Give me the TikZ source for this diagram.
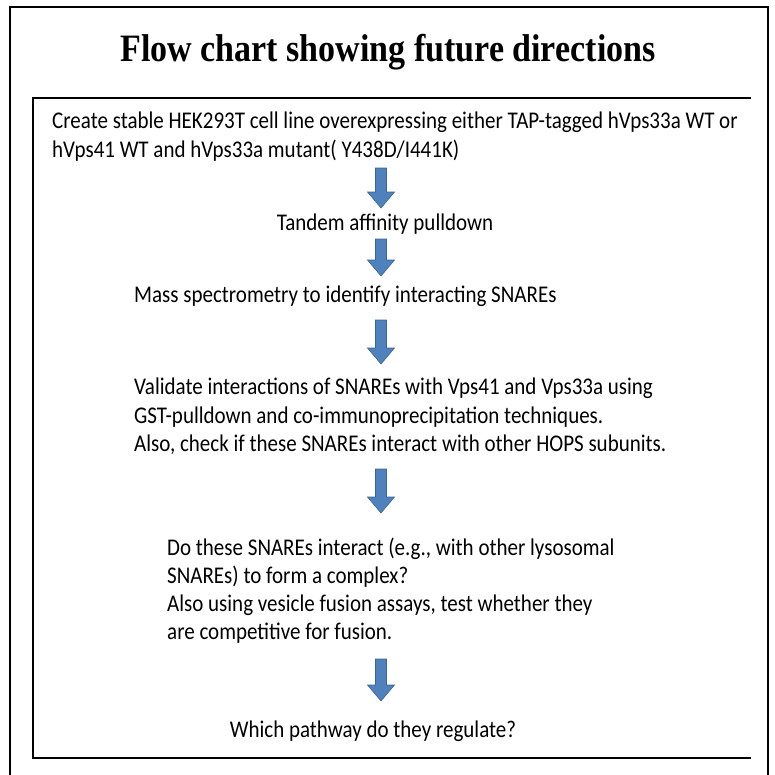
\documentclass[tikz,border=0pt]{standalone}
\usepackage{fontspec}
\setmainfont{Carlito}
\newfontfamily\titlefont{Liberation Serif}
\usetikzlibrary{calc}
\definecolor{arrowblue}{HTML}{4F81BD}
\definecolor{arrowedge}{HTML}{3A6496}
\newcommand\tallt[1]{\scalebox{1}[1.14]{#1}}
\newcommand\flowarrow[2]{%
  \filldraw[arrowstyle] ($(#1)+(-5.5,0)$) -- ($(#1)+(5.5,0)$) -- ($(#2)+(5.5,-16)$) -- ($(#2)+(13.5,-16)$)
    -- (#2) -- ($(#2)+(-13.5,-16)$) -- ($(#2)+(-5.5,-16)$) -- cycle;}
\begin{document}
\begin{tikzpicture}[x=1pt,y=-1pt,
  txt/.style={inner sep=0pt,anchor=base west,font=\fontsize{21}{27}\selectfont},
  ctxt/.style={inner sep=0pt,anchor=base,font=\fontsize{21}{27}\selectfont},
  arrowstyle/.style={fill=arrowblue,draw=arrowedge,line width=0.6pt,line join=miter},
  frame/.style={line width=2pt}]
\useasboundingbox (0,0) rectangle (775,774);
% frames
\draw[frame] (10,776) -- (10,7) -- (768,7) -- (768,776);
\draw[frame] (751,98) -- (33,98) -- (33,758) -- (751,758);
% title
\node[inner sep=0pt,anchor=base,font=\titlefont\bfseries\fontsize{34}{40}\selectfont] (title) at (388,61) {\tallt{Flow chart showing future directions}};
% steps
\node[txt] (c1) at (52,128) {\tallt{Create stable HEK293T cell line overexpressing either TAP-tagged hVps33a WT or}};
\node[txt] (c2) at (52,157) {\tallt{hVps41 WT and hVps33a mutant( Y438D/I441K)}};
\node[ctxt] (t1) at (385,230) {\tallt{Tandem affinity pulldown}};
\node[txt] (m1) at (134,302) {\tallt{Mass spectrometry to identify interacting SNAREs}};
\node[txt] (v1) at (134,394) {\tallt{Validate interactions of SNAREs with Vps41 and Vps33a using}};
\node[txt] (v2) at (134,423) {\tallt{GST-pulldown and co-immunoprecipitation techniques.}};
\node[txt] (v3) at (134,451) {\tallt{Also, check if these SNAREs interact with other HOPS subunits.}};
\node[txt] (d1) at (167,555) {\tallt{Do these SNAREs interact (e.g., with other lysosomal}};
\node[txt] (d2) at (167,583) {\tallt{SNAREs) to form a complex?}};
\node[txt] (d3) at (167,611) {\tallt{Also using vesicle fusion assays, test whether they}};
\node[txt] (d4) at (167,639) {\tallt{are competitive for fusion.}};
\node[ctxt] (w1) at (373,737) {\tallt{Which pathway do they regulate?}};
% arrows
\coordinate (a1t) at (381,168); \coordinate (a1b) at (381,208);
\coordinate (a2t) at (381,239); \coordinate (a2b) at (381,276);
\coordinate (a3t) at (381,320); \coordinate (a3b) at (381,364);
\coordinate (a4t) at (381,469); \coordinate (a4b) at (381,513);
\coordinate (a5t) at (381,659); \coordinate (a5b) at (381,701);
\flowarrow{a1t}{a1b}
\flowarrow{a2t}{a2b}
\flowarrow{a3t}{a3b}
\flowarrow{a4t}{a4b}
\flowarrow{a5t}{a5b}
\end{tikzpicture}
\end{document}
